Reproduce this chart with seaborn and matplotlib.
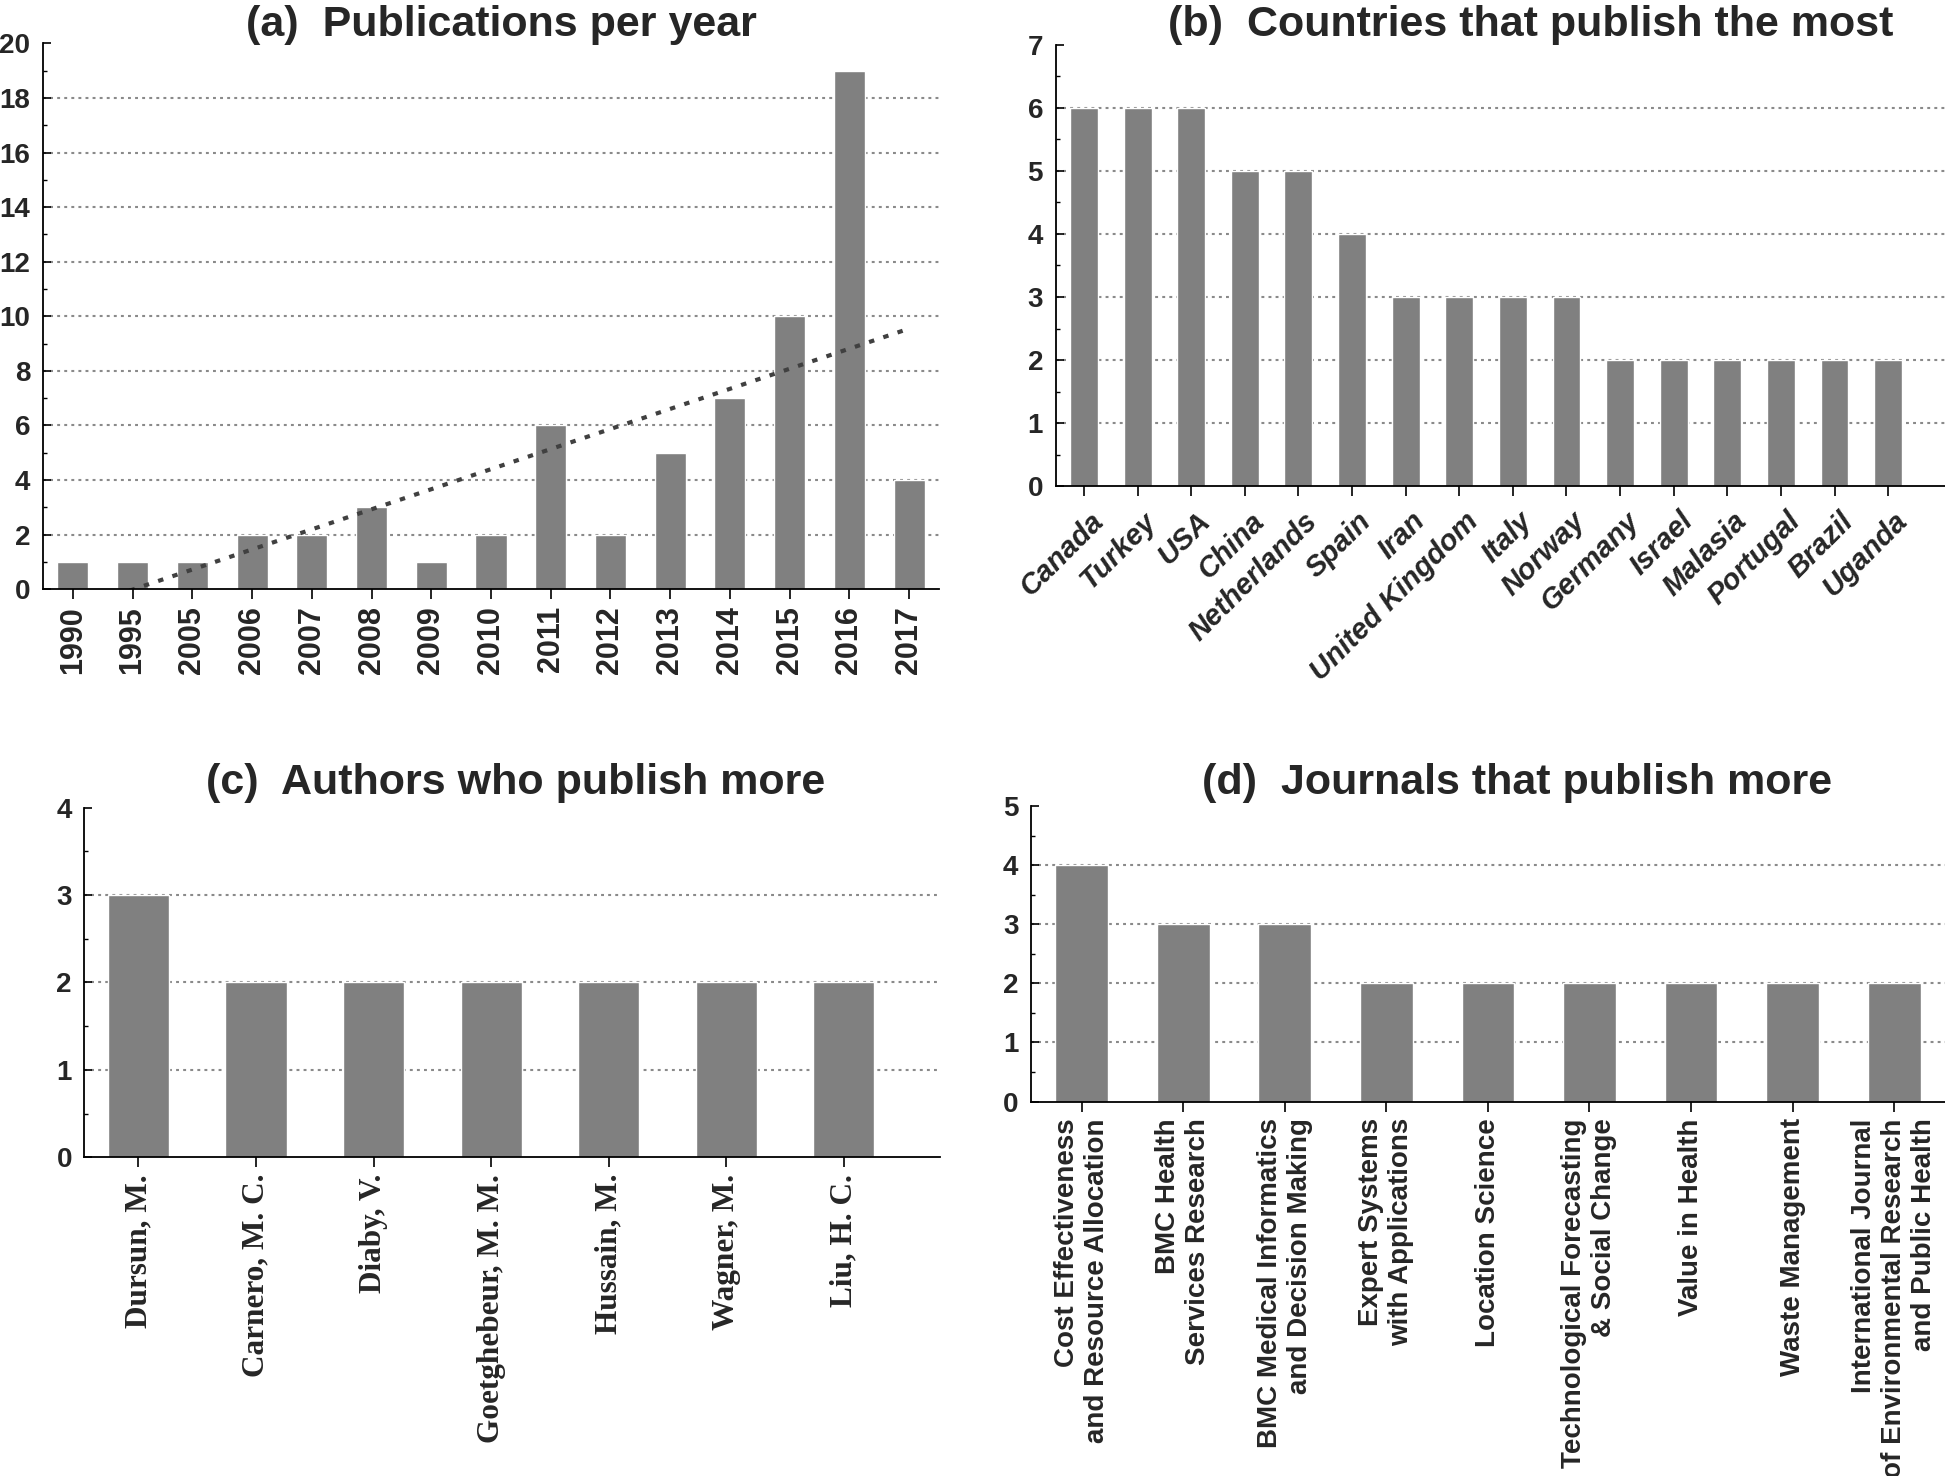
import numpy as np
import matplotlib
matplotlib.use("Agg")
import matplotlib.pyplot as plt
from matplotlib.ticker import MultipleLocator
from matplotlib.transforms import ScaledTranslation
import seaborn as sns


years = ["1990", "1995", "2005", "2006", "2007", "2008", "2009", "2010",
         "2011", "2012", "2013", "2014", "2015", "2016", "2017"]
pubs_per_year = [1, 1, 1, 2, 2, 3, 1, 2, 6, 2, 5, 7, 10, 19, 4]

countries = ["Canada", "Turkey", "USA", "China", "Netherlands", "Spain", "Iran",
             "United Kingdom", "Italy", "Norway", "Germany", "Israel", "Malasia",
             "Portugal", "Brazil", "Uganda"]
country_counts = [6, 6, 6, 5, 5, 4, 3, 3, 3, 3, 2, 2, 2, 2, 2, 2]

authors = ["Dursun, M.", "Carnero, M. C.", "Diaby, V.", "Goetghebeur, M. M.",
           "Hussain, M.", "Wagner, M.", "Liu, H. C."]
author_counts = [3, 2, 2, 2, 2, 2, 2]

journals = ["Cost Effectiveness\nand Resource Allocation",
            "BMC Health\nServices Research",
            "BMC Medical Informatics\nand Decision Making",
            "Expert Systems\nwith Applications",
            "Location Science",
            "Technological Forecasting\n& Social Change",
            "Value in Health",
            "Waste Management",
            "International Journal\nof Environmental Research\nand Public Health"]
journal_counts = [4, 3, 3, 2, 2, 2, 2, 2, 2]

BAR = "#808080"
SANS = "Liberation Sans"
SERIF = "Liberation Serif"

sns.set_style("ticks")
plt.rcParams["font.family"] = [SANS, "DejaVu Sans"]
plt.rcParams["axes.linewidth"] = 1.3
plt.rcParams["axes.edgecolor"] = "black"


def style_axis(ax, ymax, major, minor, xlim):
    ax.set_ylim(0, ymax)
    ax.set_xlim(*xlim)
    ax.yaxis.set_major_locator(MultipleLocator(major))
    ax.yaxis.set_minor_locator(MultipleLocator(minor))
    ax.tick_params(axis="y", which="both", direction="in", left=True, color="black")
    ax.tick_params(axis="y", which="major", length=5.5, width=1.2, labelsize=20, pad=9)
    ax.tick_params(axis="y", which="minor", length=3, width=1.0)
    ax.tick_params(axis="x", direction="out", length=7, width=1.2, pad=5, color="black")
    for lbl in ax.get_yticklabels():
        lbl.set_fontweight("bold")
    ax.grid(axis="y", linestyle=(0, (1.4, 2.0)), color="#8a8a8a", linewidth=1.5)
    ax.set_axisbelow(True)
    for tick in ax.yaxis.get_major_ticks():
        if tick.get_loc() >= ymax or tick.get_loc() <= 0:
            tick.gridline.set_visible(False)
    sns.despine(ax=ax)
    ax.set_xlabel("")
    ax.set_ylabel("")


def add_title(fig, x, y, text):
    fig.text(x, y, text, ha="center", va="baseline", fontsize=31,
             fontweight="bold")


fig = plt.figure(figsize=(19.45, 14.76), dpi=100)

# (a) publications per year, with linear trend
ax_a = fig.add_axes([0.0221, 0.6008, 0.4607, 0.3698])
sns.barplot(x=years, y=pubs_per_year, color=BAR, saturation=1, width=0.52,
            errorbar=None, ax=ax_a)
sns.regplot(x=np.arange(len(years)), y=np.array(pubs_per_year, dtype=float),
            scatter=False, ci=None, ax=ax_a, color="#404040",
            line_kws=dict(linestyle=(0, (1.3, 2.3)), linewidth=3.0))
style_axis(ax_a, 20, 2, 1, (-0.5, 14.5))
plt.setp(ax_a.get_xticklabels(), rotation=90, ha="center", va="top",
         fontsize=22, fontweight="bold")
add_title(fig, 0.2576, 0.9756, "(a)  Publications per year")

# (b) countries
ax_b = fig.add_axes([0.5427, 0.6706, 0.4573, 0.2991])
sns.barplot(x=countries, y=country_counts, color=BAR, saturation=1, width=0.52,
            errorbar=None, ax=ax_b)
style_axis(ax_b, 7, 1, 0.5, (-0.53, 16.06))
shift = ScaledTranslation(5 / 100, -4 / 100, fig.dpi_scale_trans)
for lbl in ax_b.get_xticklabels():
    lbl.set_transform(lbl.get_transform() + shift)
plt.setp(ax_b.get_xticklabels(), rotation=45, ha="right", va="top",
         rotation_mode="anchor", fontsize=21, fontweight="bold", fontstyle="italic")
add_title(fig, 0.787, 0.9756, "(b)  Countries that publish the most")

# (c) authors
ax_c = fig.add_axes([0.0434, 0.2159, 0.4400, 0.2370])
sns.barplot(x=authors, y=author_counts, color=BAR, saturation=1, width=0.52,
            errorbar=None, ax=ax_c)
style_axis(ax_c, 4, 1, 0.5, (-0.46, 6.82))
plt.setp(ax_c.get_xticklabels(), rotation=90, ha="center", va="top",
         fontsize=22.5, fontweight="bold", family=SERIF)
add_title(fig, 0.2653, 0.462, "(c)  Authors who publish more")

# (d) journals
ax_d = fig.add_axes([0.5300, 0.2537, 0.4700, 0.2000])
sns.barplot(x=journals, y=journal_counts, color=BAR, saturation=1, width=0.52,
            errorbar=None, ax=ax_d)
style_axis(ax_d, 5, 1, 0.5, (-0.5, 8.5))
plt.setp(ax_d.get_xticklabels(), rotation=90, ha="center", va="top",
         multialignment="right", linespacing=1.2, fontsize=20, fontweight="bold")
add_title(fig, 0.780, 0.462, "(d)  Journals that publish more")

fig.savefig("out.png", dpi=100)
plt.close(fig)
